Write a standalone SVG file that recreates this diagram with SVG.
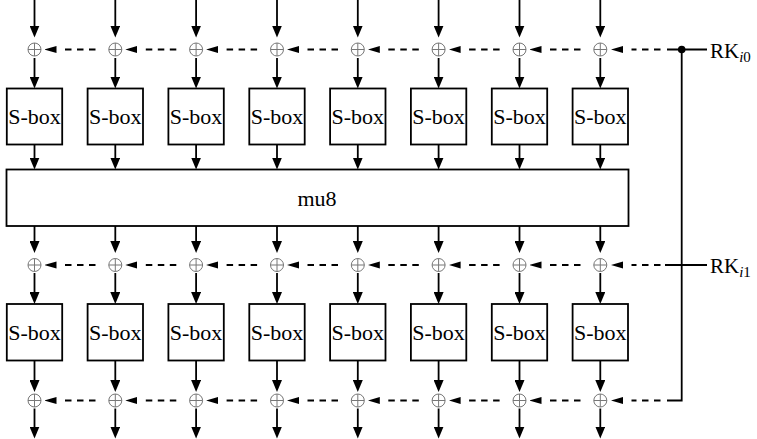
<svg xmlns="http://www.w3.org/2000/svg" xmlns:xlink="http://www.w3.org/1999/xlink" width="757" height="439" viewBox="0 0 757 439">
<style>
.box{fill:#fff;stroke:#000;stroke-width:1.8}
.t{font-family:'Liberation Serif','Times New Roman',serif;font-size:22px;fill:#000;text-anchor:middle}
.rk{font-family:'Liberation Serif','Times New Roman',serif;font-size:21px;fill:#000}
.sub{font-size:15px}
.a{stroke:#000;stroke-width:1.8;fill:none;marker-end:url(#ad)}
.d{stroke:#000;stroke-width:1.8;fill:none;stroke-dasharray:6.5 5.5;marker-end:url(#al)}
.s{stroke:#000;stroke-width:1.8;fill:none}
.x{fill:#fff;stroke:#777;stroke-width:1}
</style>
<defs>
<marker id="ad" markerUnits="userSpaceOnUse" markerWidth="12" markerHeight="10" refX="6" refY="5" orient="auto"><path d="M0,0 L12,5 L0,10 Z" fill="#000"/></marker>
<marker id="al" markerUnits="userSpaceOnUse" markerWidth="12" markerHeight="8" refX="-8.5" refY="4" orient="auto"><path d="M0,0.5 L12,4 L0,7.5 Z" fill="#000"/></marker>
<g id="xor"><circle class="x" r="6.5"/><path class="x" d="M-6.5,0H6.5M0,-6.5V6.5"/></g>
</defs>
<g id="connectors">
<line class="a" x1="34.5" y1="0" x2="34.5" y2="31.5"/><line class="a" x1="115.3" y1="0" x2="115.3" y2="31.5"/><line class="a" x1="196.1" y1="0" x2="196.1" y2="31.5"/><line class="a" x1="277" y1="0" x2="277" y2="31.5"/><line class="a" x1="357.8" y1="0" x2="357.8" y2="31.5"/><line class="a" x1="438.6" y1="0" x2="438.6" y2="31.5"/><line class="a" x1="519.5" y1="0" x2="519.5" y2="31.5"/><line class="a" x1="600.3" y1="0" x2="600.3" y2="31.5"/>
<line class="a" x1="34.5" y1="58" x2="34.5" y2="82.5"/><line class="a" x1="115.3" y1="58" x2="115.3" y2="82.5"/><line class="a" x1="196.1" y1="58" x2="196.1" y2="82.5"/><line class="a" x1="277" y1="58" x2="277" y2="82.5"/><line class="a" x1="357.8" y1="58" x2="357.8" y2="82.5"/><line class="a" x1="438.6" y1="58" x2="438.6" y2="82.5"/><line class="a" x1="519.5" y1="58" x2="519.5" y2="82.5"/><line class="a" x1="600.3" y1="58" x2="600.3" y2="82.5"/>
<line class="a" x1="34.5" y1="144.5" x2="34.5" y2="163.5"/><line class="a" x1="115.3" y1="144.5" x2="115.3" y2="163.5"/><line class="a" x1="196.1" y1="144.5" x2="196.1" y2="163.5"/><line class="a" x1="277" y1="144.5" x2="277" y2="163.5"/><line class="a" x1="357.8" y1="144.5" x2="357.8" y2="163.5"/><line class="a" x1="438.6" y1="144.5" x2="438.6" y2="163.5"/><line class="a" x1="519.5" y1="144.5" x2="519.5" y2="163.5"/><line class="a" x1="600.3" y1="144.5" x2="600.3" y2="163.5"/>
<line class="a" x1="34.5" y1="226" x2="34.5" y2="247"/><line class="a" x1="115.3" y1="226" x2="115.3" y2="247"/><line class="a" x1="196.1" y1="226" x2="196.1" y2="247"/><line class="a" x1="277" y1="226" x2="277" y2="247"/><line class="a" x1="357.8" y1="226" x2="357.8" y2="247"/><line class="a" x1="438.6" y1="226" x2="438.6" y2="247"/><line class="a" x1="519.5" y1="226" x2="519.5" y2="247"/><line class="a" x1="600.3" y1="226" x2="600.3" y2="247"/>
<line class="a" x1="34.5" y1="273" x2="34.5" y2="298"/><line class="a" x1="115.3" y1="273" x2="115.3" y2="298"/><line class="a" x1="196.1" y1="273" x2="196.1" y2="298"/><line class="a" x1="277" y1="273" x2="277" y2="298"/><line class="a" x1="357.8" y1="273" x2="357.8" y2="298"/><line class="a" x1="438.6" y1="273" x2="438.6" y2="298"/><line class="a" x1="519.5" y1="273" x2="519.5" y2="298"/><line class="a" x1="600.3" y1="273" x2="600.3" y2="298"/>
<line class="a" x1="34.5" y1="360.5" x2="34.5" y2="386"/><line class="a" x1="115.3" y1="360.5" x2="115.3" y2="386"/><line class="a" x1="196.1" y1="360.5" x2="196.1" y2="386"/><line class="a" x1="277" y1="360.5" x2="277" y2="386"/><line class="a" x1="357.8" y1="360.5" x2="357.8" y2="386"/><line class="a" x1="438.6" y1="360.5" x2="438.6" y2="386"/><line class="a" x1="519.5" y1="360.5" x2="519.5" y2="386"/><line class="a" x1="600.3" y1="360.5" x2="600.3" y2="386"/>
<line class="a" x1="34.5" y1="408.5" x2="34.5" y2="432.5"/><line class="a" x1="115.3" y1="408.5" x2="115.3" y2="432.5"/><line class="a" x1="196.1" y1="408.5" x2="196.1" y2="432.5"/><line class="a" x1="277" y1="408.5" x2="277" y2="432.5"/><line class="a" x1="357.8" y1="408.5" x2="357.8" y2="432.5"/><line class="a" x1="438.6" y1="408.5" x2="438.6" y2="432.5"/><line class="a" x1="519.5" y1="408.5" x2="519.5" y2="432.5"/><line class="a" x1="600.3" y1="408.5" x2="600.3" y2="432.5"/>
<line class="d" x1="95.5" y1="49.5" x2="65" y2="49.5"/><line class="d" x1="176.3" y1="49.5" x2="145.8" y2="49.5"/><line class="d" x1="257.1" y1="49.5" x2="226.6" y2="49.5"/><line class="d" x1="338" y1="49.5" x2="307.5" y2="49.5"/><line class="d" x1="418.8" y1="49.5" x2="388.3" y2="49.5"/><line class="d" x1="499.6" y1="49.5" x2="469.1" y2="49.5"/><line class="d" x1="580.5" y1="49.5" x2="550" y2="49.5"/><line class="d" x1="660.5" y1="49.5" x2="631.5" y2="49.5"/>
<line class="d" x1="95.5" y1="265" x2="65" y2="265"/><line class="d" x1="176.3" y1="265" x2="145.8" y2="265"/><line class="d" x1="257.1" y1="265" x2="226.6" y2="265"/><line class="d" x1="338" y1="265" x2="307.5" y2="265"/><line class="d" x1="418.8" y1="265" x2="388.3" y2="265"/><line class="d" x1="499.6" y1="265" x2="469.1" y2="265"/><line class="d" x1="580.5" y1="265" x2="550" y2="265"/><line class="d" x1="660.5" y1="265" x2="631.5" y2="265"/>
<line class="d" x1="95.5" y1="400.5" x2="65" y2="400.5"/><line class="d" x1="176.3" y1="400.5" x2="145.8" y2="400.5"/><line class="d" x1="257.1" y1="400.5" x2="226.6" y2="400.5"/><line class="d" x1="338" y1="400.5" x2="307.5" y2="400.5"/><line class="d" x1="418.8" y1="400.5" x2="388.3" y2="400.5"/><line class="d" x1="499.6" y1="400.5" x2="469.1" y2="400.5"/><line class="d" x1="580.5" y1="400.5" x2="550" y2="400.5"/><line class="d" x1="660.5" y1="400.5" x2="631.5" y2="400.5"/>
<path class="s" d="M667,49.5H707M665,265H707M681.7,49.5V400.5H667"/>
<circle cx="681.7" cy="49.5" r="3.8" fill="#000"/>
</g>
<g id="xor-row0">
<g id="x0_0"><use xlink:href="#xor" x="34.5" y="49.5"/></g><g id="x0_1"><use xlink:href="#xor" x="115.3" y="49.5"/></g><g id="x0_2"><use xlink:href="#xor" x="196.1" y="49.5"/></g><g id="x0_3"><use xlink:href="#xor" x="277" y="49.5"/></g><g id="x0_4"><use xlink:href="#xor" x="357.8" y="49.5"/></g><g id="x0_5"><use xlink:href="#xor" x="438.6" y="49.5"/></g><g id="x0_6"><use xlink:href="#xor" x="519.5" y="49.5"/></g><g id="x0_7"><use xlink:href="#xor" x="600.3" y="49.5"/></g>
</g>
<g id="xor-row1">
<g id="x1_0"><use xlink:href="#xor" x="34.5" y="265"/></g><g id="x1_1"><use xlink:href="#xor" x="115.3" y="265"/></g><g id="x1_2"><use xlink:href="#xor" x="196.1" y="265"/></g><g id="x1_3"><use xlink:href="#xor" x="277" y="265"/></g><g id="x1_4"><use xlink:href="#xor" x="357.8" y="265"/></g><g id="x1_5"><use xlink:href="#xor" x="438.6" y="265"/></g><g id="x1_6"><use xlink:href="#xor" x="519.5" y="265"/></g><g id="x1_7"><use xlink:href="#xor" x="600.3" y="265"/></g>
</g>
<g id="xor-row2">
<g id="x2_0"><use xlink:href="#xor" x="34.5" y="400.5"/></g><g id="x2_1"><use xlink:href="#xor" x="115.3" y="400.5"/></g><g id="x2_2"><use xlink:href="#xor" x="196.1" y="400.5"/></g><g id="x2_3"><use xlink:href="#xor" x="277" y="400.5"/></g><g id="x2_4"><use xlink:href="#xor" x="357.8" y="400.5"/></g><g id="x2_5"><use xlink:href="#xor" x="438.6" y="400.5"/></g><g id="x2_6"><use xlink:href="#xor" x="519.5" y="400.5"/></g><g id="x2_7"><use xlink:href="#xor" x="600.3" y="400.5"/></g>
</g>
<g id="sbox-row0">
<g id="s0_0"><rect class="box" x="6.8" y="88.5" width="55.4" height="56"/><text class="t" x="34.5" y="124">S-box</text></g>
<g id="s0_1"><rect class="box" x="87.6" y="88.5" width="55.4" height="56"/><text class="t" x="115.3" y="124">S-box</text></g>
<g id="s0_2"><rect class="box" x="168.4" y="88.5" width="55.4" height="56"/><text class="t" x="196.1" y="124">S-box</text></g>
<g id="s0_3"><rect class="box" x="249.3" y="88.5" width="55.4" height="56"/><text class="t" x="277" y="124">S-box</text></g>
<g id="s0_4"><rect class="box" x="330.1" y="88.5" width="55.4" height="56"/><text class="t" x="357.8" y="124">S-box</text></g>
<g id="s0_5"><rect class="box" x="410.9" y="88.5" width="55.4" height="56"/><text class="t" x="438.6" y="124">S-box</text></g>
<g id="s0_6"><rect class="box" x="491.8" y="88.5" width="55.4" height="56"/><text class="t" x="519.5" y="124">S-box</text></g>
<g id="s0_7"><rect class="box" x="572.6" y="88.5" width="55.4" height="56"/><text class="t" x="600.3" y="124">S-box</text></g>
</g>
<g id="mu8"><rect class="box" x="6.5" y="169.5" width="622" height="56.5"/><text class="t" x="317" y="205.5">mu8</text></g>
<g id="sbox-row1">
<g id="s1_0"><rect class="box" x="6.8" y="304" width="55.4" height="56.5"/><text class="t" x="34.5" y="340">S-box</text></g>
<g id="s1_1"><rect class="box" x="87.6" y="304" width="55.4" height="56.5"/><text class="t" x="115.3" y="340">S-box</text></g>
<g id="s1_2"><rect class="box" x="168.4" y="304" width="55.4" height="56.5"/><text class="t" x="196.1" y="340">S-box</text></g>
<g id="s1_3"><rect class="box" x="249.3" y="304" width="55.4" height="56.5"/><text class="t" x="277" y="340">S-box</text></g>
<g id="s1_4"><rect class="box" x="330.1" y="304" width="55.4" height="56.5"/><text class="t" x="357.8" y="340">S-box</text></g>
<g id="s1_5"><rect class="box" x="410.9" y="304" width="55.4" height="56.5"/><text class="t" x="438.6" y="340">S-box</text></g>
<g id="s1_6"><rect class="box" x="491.8" y="304" width="55.4" height="56.5"/><text class="t" x="519.5" y="340">S-box</text></g>
<g id="s1_7"><rect class="box" x="572.6" y="304" width="55.4" height="56.5"/><text class="t" x="600.3" y="340">S-box</text></g>
</g>
<g id="rk0"><text class="rk" x="710" y="57.5">RK<tspan class="sub" dy="4"><tspan font-style="italic">i</tspan>0</tspan></text></g>
<g id="rk1"><text class="rk" x="710" y="273">RK<tspan class="sub" dy="4"><tspan font-style="italic">i</tspan>1</tspan></text></g>
</svg>
